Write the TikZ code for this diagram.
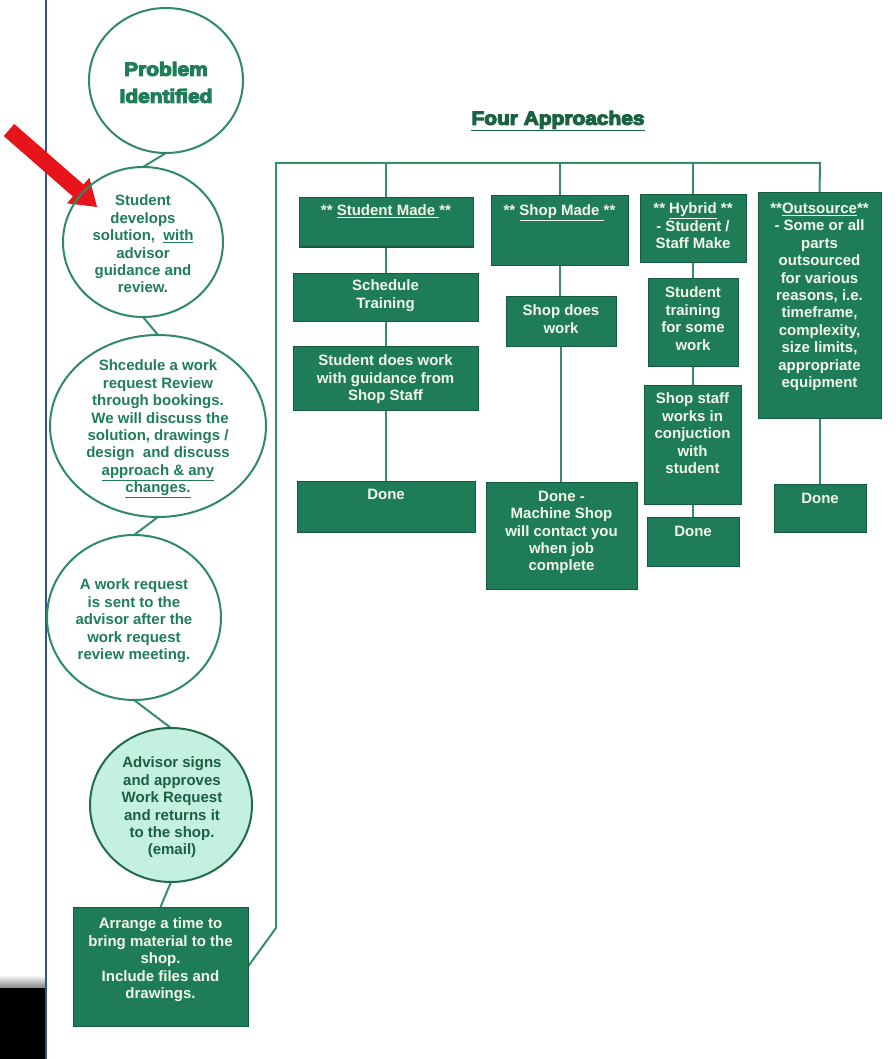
\documentclass[tikz,border=0pt]{standalone}
\usepackage{fontspec}
\setmainfont{Liberation Sans}
\newfontfamily\heavyfont{Liberation Sans Bold}[FakeBold=6,FakeStretch=1.1]
\usetikzlibrary{shapes.geometric,backgrounds}

\definecolor{boxfill}{HTML}{1E7D58}
\definecolor{boxline}{HTML}{155C3F}
\definecolor{wirecol}{HTML}{3A8C68}
\definecolor{ringline}{HTML}{2E8A64}
\definecolor{ringtext}{HTML}{1F7D58}
\definecolor{mint}{HTML}{C4F0DF}
\definecolor{mintline}{HTML}{1F6B4C}
\definecolor{minttext}{HTML}{1B5E43}
\definecolor{cream}{HTML}{F3F7E9}
\definecolor{pageblue}{HTML}{34528C}
\definecolor{alert}{HTML}{E8141B}
\definecolor{titlegreen}{HTML}{1A6340}

% green box from (x1,y1) to (x2,y2) with its text hanging from the given cap line
\newcommand\greenbox[7]{%
  \node[gbox, minimum width={#4-#2}, minimum height={#5-#3}] (#1) at ({(#2+#4)/2},{(#3+#5)/2}) {};
  \node[btext] (#1-t) at ({(#2+#4)/2},#6) {#7};}

\begin{document}
\begin{tikzpicture}[x=1pt,y=-1pt,
  gbox/.style={rectangle, draw=boxline, fill=boxfill, line width=1pt, inner sep=0pt, outer sep=0pt},
  btext/.style={anchor=north, inner sep=0pt, outer sep=0pt, align=center, text=cream,
                font=\bfseries\fontsize{15}{17.4}\selectfont},
  ring/.style={ellipse, draw=ringline, line width=2pt, inner sep=0pt, outer sep=0pt},
  rtext/.style={btext, text=ringtext},
  wire/.style={draw=wirecol, line width=2pt},
  heading/.style={anchor=north, inner sep=0pt, outer sep=0pt, align=center}]

\useasboundingbox (0,0) rectangle (895,1059);

% page edge and corner
\fill[black] (0,987) rectangle (45,1059);
\shade[top color=white, bottom color=black!45] (0,975) rectangle (45,987);
\draw[pageblue, line width=2.2pt] (46,0) -- (46,1059);

% pointer arrow
\fill[alert] (3.7,136) -- (72.9,196.5) -- (67,203.3) -- (97,207) -- (89.4,177.7) -- (83.5,184.5) -- (14.3,124) -- cycle;

% process steps
\node[ring, minimum width=154, minimum height=145] (c1) at (166,80.5) {};
\node[heading, text=ringtext, font=\heavyfont\fontsize{19}{27}\selectfont] (c1-t) at (166,62) {Problem\\Identified};

\node[ring, minimum width=160, minimum height=150] (c2) at (143,242) {};
\node[rtext] (c2-t) at (143,195) {Student\\develops\\solution,\ \ \underline{with}\\advisor\\guidance and\\review.};

\node[ring, minimum width=216, minimum height=182] (c3) at (158,426) {};
\node[rtext] (c3-t) at (158,360) {Shcedule a work\\request Review\\through bookings.\\\ We will discuss the\\solution, drawings /\\design\ \ and discuss\\\underline{approach \& any}\\\underline{changes.}};

\node[ring, minimum width=174, minimum height=165] (c4) at (134,617.5) {};
\node[rtext] (c4-t) at (134,579) {A work request\\is sent to the\\advisor after the\\work request\\review meeting.};

\node[ring, draw=mintline, fill=mint, minimum width=162, minimum height=154] (c5) at (171,805) {};
\node[rtext, text=minttext] (c5-t) at (172,757) {Advisor signs\\and approves\\Work Request\\and returns it\\to the shop.\\(email)};

\greenbox{r6}{73}{907}{248}{1026}{918}{Arrange a time to\\bring material to the\\shop.\\Include files and\\drawings.}

% heading of the approaches
\node[heading, text=titlegreen, font=\heavyfont\fontsize{19}{22}\selectfont] (title) at (558,111) {\underline{Four Approaches}};

% approach columns
\greenbox{sm}{299}{198}{473}{247}{205}{** \underline{Student Made }**}
\greenbox{st}{293}{273}{478}{321}{280}{Schedule\\Training}
\greenbox{sw}{293}{346}{478}{410}{355}{Student does work\\with guidance from\\Shop Staff}
\greenbox{d1}{297}{481}{475}{532}{489}{Done}

\greenbox{smd}{491}{196}{628}{265}{205}{** \underline{Shop Made }**}
\greenbox{sdw}{506}{296}{616}{346}{305}{Shop does\\work}
\greenbox{d2}{486}{482}{637}{589}{491}{Done -\\Machine Shop\\will contact you\\when job\\complete}

\greenbox{hy}{640}{195}{746}{262}{203}{** \underline{Hybrid} **\\- Student /\\Staff Make}
\greenbox{stt}{648}{278}{738}{366}{287}{Student\\training\\for some\\work}
\greenbox{ssw}{644}{385}{741}{504}{393}{Shop staff\\works in\\conjuction\\with\\student}
\greenbox{d3}{647}{517}{739}{566}{526}{Done}

\greenbox{os}{758}{193}{881}{418}{203}{**\underline{Outsource}**\\- Some or all\\parts\\outsourced\\for various\\reasons, i.e.\\timeframe,\\complexity,\\size limits,\\appropriate\\equipment}
\greenbox{d4}{774}{484}{866}{532}{493}{Done}

% connectors, kept beneath the shapes
\coordinate (kink) at (276,928);
\coordinate (busL) at (276,163);
\coordinate (busR) at (820,163);
\begin{pgfonlayer}{background}
\draw[wire] (c1.south) -- (c2.north);
\draw[wire] (c2.south) -- (c3.north);
\draw[wire] (c3.south) -- (c4.north);
\draw[wire] (c4.south) -- (c5.north);
\draw[wire] (c5.south) -- (r6.north);
\draw[wire] (r6.east) -- (kink) -- (busL) -- (busR) -- (os.north);
\draw[wire] (sm.north) -- (sm.north |- busL);
\draw[wire] (smd.north) -- (smd.north |- busL);
\draw[wire] (hy.north) -- (hy.north |- busL);
\draw[wire] (sm.south) -- (sm.south |- st.north);
\draw[wire] (st.south) -- (st.south |- sw.north);
\draw[wire] (sw.south) -- (sw.south |- d1.north);
\draw[wire] (smd.south) -- (smd.south |- sdw.north);
\draw[wire] (sdw.south) -- (sdw.south |- d2.north);
\draw[wire] (hy.south) -- (hy.south |- stt.north);
\draw[wire] (stt.south) -- (stt.south |- ssw.north);
\draw[wire] (ssw.south) -- (ssw.south |- d3.north);
\draw[wire] (os.south) -- (os.south |- d4.north);
\end{pgfonlayer}
\end{tikzpicture}
\end{document}
